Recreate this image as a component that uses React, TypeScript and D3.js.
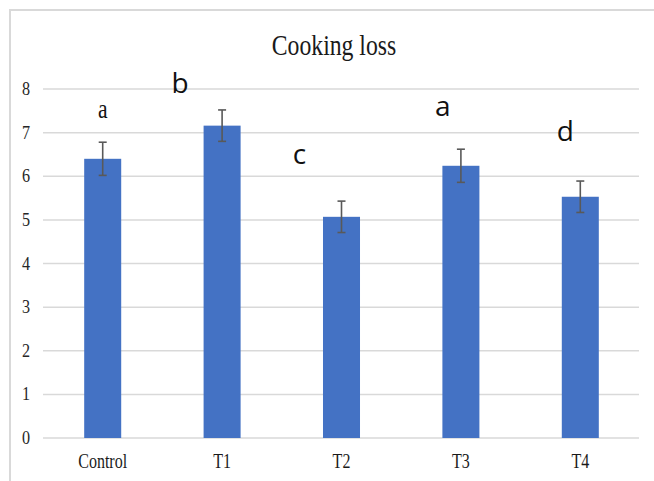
import React, { useRef, useEffect } from 'react';
import * as d3 from 'd3';

const categories = ['Control', 'T1', 'T2', 'T3', 'T4'];
const means = [6.4, 7.16, 5.07, 6.24, 5.53];
const errors = [0.38, 0.36, 0.36, 0.38, 0.36];
const letters = ['a', 'b', 'c', 'a', 'd'];
const yTicks = [0, 1, 2, 3, 4, 5, 6, 7, 8];

// letter placement relative to each bar centre (offset in px, value for baseline)
const letterDx = [0, -42, -42, -18, -15];
const letterY = [7.33, 7.91, 6.29, 7.38, 6.8];
const letterSerif = [true, false, false, false, false];

const W = 654;
const H = 481;

const App: React.FC = () => {
  const ref = useRef<SVGSVGElement>(null);

  useEffect(() => {
    if (!ref.current) return;
    const svg = d3.select(ref.current);
    svg.selectAll('*').remove();

    const margin = { top: 89, right: 14, bottom: 43, left: 43 };

    const x = d3.scaleBand<string>()
      .domain(categories)
      .range([margin.left, W - margin.right])
      .paddingInner(0.69)
      .paddingOuter(0.345);

    const y = d3.scaleLinear()
      .domain([0, 8])
      .range([H - margin.bottom, margin.top]);

    svg.append('rect').attr('width', W).attr('height', H).attr('fill', '#fff');

    // chart frame
    svg.append('path')
      .attr('d', `M10,${H} V10 H${W}`)
      .attr('fill', 'none')
      .attr('stroke', '#d9d9d9')
      .attr('stroke-width', 2);

    // gridlines
    svg.append('g')
      .selectAll('line')
      .data(yTicks)
      .enter()
      .append('line')
      .attr('x1', margin.left)
      .attr('x2', W - margin.right - 1)
      .attr('y1', d => y(d))
      .attr('y2', d => y(d))
      .attr('stroke', '#d9d9d9')
      .attr('stroke-width', 1.5);

    const serif = '"Liberation Serif", "Times New Roman", serif';

    // y tick labels
    svg.append('g')
      .selectAll('text')
      .data(yTicks)
      .enter()
      .append('text')
      .attr('transform', d => `translate(26,${y(d) + 6}) scale(0.85,1)`)
      .attr('text-anchor', 'middle')
      .style('font-family', serif)
      .style('font-size', '19px')
      .style('fill', '#262626')
      .text(d => d);

    // x labels
    svg.append('g')
      .selectAll('text')
      .data(categories)
      .enter()
      .append('text')
      .attr('transform', d => `translate(${(x(d) || 0) + x.bandwidth() / 2},468) scale(0.8,1)`)
      .attr('text-anchor', 'middle')
      .style('font-family', serif)
      .style('font-size', '20px')
      .style('fill', '#1a1a1a')
      .text(d => d);

    // bars
    svg.append('g')
      .selectAll('rect')
      .data(categories)
      .enter()
      .append('rect')
      .attr('x', d => x(d) || 0)
      .attr('width', x.bandwidth())
      .attr('y', (_, i) => y(means[i]))
      .attr('height', (_, i) => y(0) - y(means[i]))
      .attr('fill', '#4472c4');

    // error bars
    const eb = svg.append('g')
      .attr('stroke', '#595959')
      .attr('stroke-width', 1.6);
    categories.forEach((c, i) => {
      const cx = (x(c) || 0) + x.bandwidth() / 2;
      const top = y(means[i] + errors[i]);
      const bot = y(means[i] - errors[i]);
      eb.append('line').attr('x1', cx).attr('x2', cx).attr('y1', top).attr('y2', bot);
      eb.append('line').attr('x1', cx - 4).attr('x2', cx + 4).attr('y1', top).attr('y2', top);
      eb.append('line').attr('x1', cx - 4).attr('x2', cx + 4).attr('y1', bot).attr('y2', bot);
    });

    // significance letters
    categories.forEach((c, i) => {
      const cx = (x(c) || 0) + x.bandwidth() / 2 + letterDx[i];
      const t = svg.append('text')
        .attr('text-anchor', 'middle')
        .style('fill', '#111')
        .text(letters[i]);
      if (letterSerif[i]) {
        t.attr('transform', `translate(${cx},${y(letterY[i])}) scale(0.8,1)`)
          .style('font-family', serif)
          .style('font-size', '27px');
      } else {
        t.attr('x', cx)
          .attr('y', y(letterY[i]))
          .style('font-family', '"Open Sans", sans-serif')
          .style('font-size', '28px');
      }
    });

    // title
    svg.append('text')
      .attr('transform', `translate(334,55) scale(0.79,1)`)
      .attr('text-anchor', 'middle')
      .style('font-family', serif)
      .style('font-size', '30px')
      .style('fill', '#1a1a1a')
      .text('Cooking loss');
  }, []);

  return (
    <div style={{ position: 'absolute', left: 0, top: 0, width: W, height: H }}>
      <svg ref={ref} width={W} height={H} style={{ display: 'block' }}></svg>
    </div>
  );
};

export default App;
